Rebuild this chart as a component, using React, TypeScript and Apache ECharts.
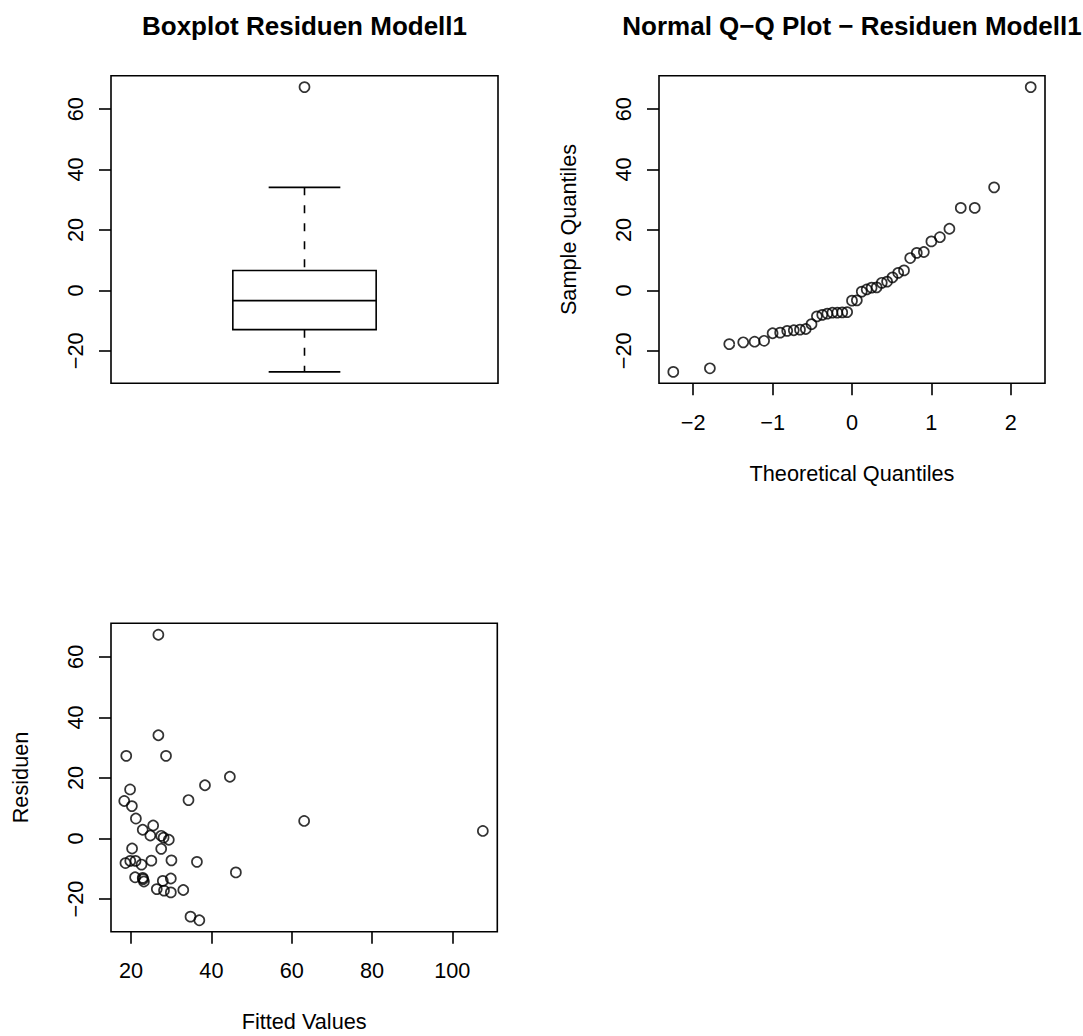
import React, { useEffect, useRef } from "react";
import * as echarts from "echarts";

// ---------- data ----------
const fittedValues = [
  26.8, 26.8, 18.8, 28.7, 44.6, 38.4, 19.75, 34.3, 18.3, 20.2, 21.2, 63.1, 25.5, 22.9, 107.6,
  24.8, 27.5, 28.1, 29.4, 27.5, 20.25, 18.6, 19.8, 21.1, 22.6, 25.05, 30.05, 36.4, 46.1, 21.0,
  22.9, 23.0, 23.2, 27.9, 29.9, 26.4, 28.2, 29.9, 33.0, 34.8, 37.0,
];
const residuals = [
  67.3, 34.1, 27.3, 27.3, 20.4, 17.6, 16.2, 12.7, 12.4, 10.7, 6.6, 5.8, 4.3, 2.9, 2.5,
  1.0, 0.9, 0.3, -0.4, -3.4, -3.3, -8.1, -7.4, -7.4, -8.6, -7.3, -7.2, -7.7, -11.2, -12.8,
  -13.0, -13.4, -14.2, -14.0, -13.2, -16.7, -17.2, -17.8, -17.0, -25.8, -27.0,
];
const theoreticalQuantiles = [
  -2.251, -1.79, -1.546, -1.37, -1.227, -1.107, -1.0, -0.905, -0.816, -0.733, -0.655, -0.582,
  -0.51, -0.442, -0.375, -0.311, -0.247, -0.185, -0.123, -0.061, 0, 0.061, 0.123, 0.185, 0.247,
  0.311, 0.375, 0.442, 0.51, 0.582, 0.655, 0.733, 0.816, 0.905, 1.0, 1.107, 1.227, 1.37, 1.546,
  1.79, 2.251,
];
// [lower whisker, lower hinge, median, upper hinge, upper whisker]
const boxStats = [-27.0, -13.0, -3.4, 6.6, 34.1];
const boxOutliers = [67.3];

const residualTicks = [-20, 0, 20, 40, 60];
const quantileTicks = [-2, -1, 0, 1, 2];
const fittedTicks = [20, 40, 60, 80, 100];

const titles = ["Boxplot Residuen Modell1", "Normal Q\u2212Q Plot \u2212 Residuen Modell1"];

// axis limits (R style 4% extension)
const residualLim = [-30.77, 71.07];
const quantileLim = [-2.431, 2.431];
const fittedLim = [15.0, 111.2];
const boxXLim = [0.46, 1.54];

// ---------- styling ----------
const FONT = "'Liberation Sans', Arial, Helvetica, sans-serif";
const AXIS_FS = 21.7;
const TITLE_FS = 26;
const LW = 1.6;

const fmt = (v: number) => (v < 0 ? "\u2212" + Math.abs(v) : String(v));

function valueAxis(gridIndex: number, lim: number[], ticks: number[], isY: boolean, name?: string) {
  return {
    type: "value",
    gridIndex,
    min: lim[0],
    max: lim[1],
    position: isY ? "left" : "bottom",
    axisLine: { show: false, onZero: false },
    axisTick: {
      show: true,
      inside: false,
      length: 12,
      customValues: ticks,
      lineStyle: { color: "#000", width: LW },
    },
    axisLabel: {
      show: true,
      customValues: ticks,
      formatter: (v: number) => fmt(v),
      color: "#000",
      fontSize: AXIS_FS,
      fontFamily: FONT,
      rotate: isY ? 90 : 0,
      margin: isY ? 25 : 28,
    },
    splitLine: { show: false },
    name: name || "",
    nameLocation: "middle",
    nameGap: isY ? 80 : 79,
    nameTextStyle: { color: "#000", fontSize: AXIS_FS, fontFamily: FONT },
  };
}

const pointStyle = {
  type: "scatter",
  symbol: "circle",
  symbolSize: 10,
  silent: true,
  itemStyle: { color: "rgba(0,0,0,0)", borderColor: "#000", borderWidth: 1.7 },
};

const BOX_HALF = 0.2;
const CAP_HALF = 0.1;

export default function App() {
  const ref = useRef<HTMLDivElement>(null);

  useEffect(() => {
    if (!ref.current) return;
    const chart = echarts.init(ref.current, null, { renderer: "svg" });
    const sampleQuantiles = [...residuals].sort((a, b) => a - b);

    const gridBase = {
      show: true,
      borderColor: "#000",
      borderWidth: LW,
      backgroundColor: "rgba(0,0,0,0)",
      containLabel: false,
      outerBoundsMode: "none",
    };

    const option: any = {
      animation: false,
      backgroundColor: "#fff",
      grid: [
        { ...gridBase, left: 111, top: 75.7, width: 387, height: 307.6 },
        { ...gridBase, left: 659, top: 75.7, width: 386, height: 307.6 },
        { ...gridBase, left: 111, top: 623.3, width: 386.3, height: 308.4 },
      ],
      xAxis: [
        { type: "value", gridIndex: 0, min: boxXLim[0], max: boxXLim[1], show: false },
        valueAxis(1, quantileLim, quantileTicks, false, "Theoretical Quantiles"),
        valueAxis(2, fittedLim, fittedTicks, false, "Fitted Values"),
      ],
      yAxis: [
        valueAxis(0, residualLim, residualTicks, true),
        valueAxis(1, residualLim, residualTicks, true, "Sample Quantiles"),
        valueAxis(2, residualLim, residualTicks, true, "Residuen"),
      ],
      graphic: [
        {
          type: "text",
          x: 304.5,
          y: 26.3,
          style: {
            text: titles[0],
            fontSize: TITLE_FS,
            fontWeight: "bold",
            fontFamily: FONT,
            fill: "#000",
            align: "center",
            verticalAlign: "middle",
          },
        },
        {
          type: "text",
          x: 852,
          y: 26.3,
          style: {
            text: titles[1],
            fontSize: TITLE_FS,
            fontWeight: "bold",
            fontFamily: FONT,
            fill: "#000",
            align: "center",
            verticalAlign: "middle",
          },
        },
      ],
      series: [
        {
          type: "custom",
          xAxisIndex: 0,
          yAxisIndex: 0,
          silent: true,
          clip: false,
          encode: { x: 0, y: [1, 2, 3, 4, 5] },
          data: [[1, ...boxStats]],
          renderItem: (params: any, api: any) => {
            const x = api.value(0);
            const mn = api.value(1);
            const q1 = api.value(2);
            const md = api.value(3);
            const q3 = api.value(4);
            const mx = api.value(5);
            const c = (xx: number, yy: number) => api.coord([xx, yy]);
            const solid = { stroke: "#000", lineWidth: LW, fill: "none" };
            const dashed = { stroke: "#000", lineWidth: LW, lineDash: [8, 10], fill: "none" };
            const tl = c(x - BOX_HALF, q3);
            const br = c(x + BOX_HALF, q1);
            const mL = c(x - BOX_HALF, md);
            const mR = c(x + BOX_HALF, md);
            const top = c(x, mx);
            const bot = c(x, mn);
            const q3p = c(x, q3);
            const q1p = c(x, q1);
            const capTL = c(x - CAP_HALF, mx);
            const capTR = c(x + CAP_HALF, mx);
            const capBL = c(x - CAP_HALF, mn);
            const capBR = c(x + CAP_HALF, mn);
            return {
              type: "group",
              children: [
                {
                  type: "line",
                  shape: { x1: top[0], y1: top[1], x2: q3p[0], y2: q3p[1] },
                  style: dashed,
                },
                {
                  type: "line",
                  shape: { x1: q1p[0], y1: q1p[1], x2: bot[0], y2: bot[1] },
                  style: dashed,
                },
                {
                  type: "line",
                  shape: { x1: capTL[0], y1: capTL[1], x2: capTR[0], y2: capTR[1] },
                  style: solid,
                },
                {
                  type: "line",
                  shape: { x1: capBL[0], y1: capBL[1], x2: capBR[0], y2: capBR[1] },
                  style: solid,
                },
                {
                  type: "rect",
                  shape: { x: tl[0], y: tl[1], width: br[0] - tl[0], height: br[1] - tl[1] },
                  style: solid,
                },
                {
                  type: "line",
                  shape: { x1: mL[0], y1: mL[1], x2: mR[0], y2: mR[1] },
                  style: solid,
                },
              ],
            };
          },
        },
        {
          ...pointStyle,
          xAxisIndex: 0,
          yAxisIndex: 0,
          data: boxOutliers.map((v) => [1, v]),
        },
        {
          ...pointStyle,
          xAxisIndex: 1,
          yAxisIndex: 1,
          data: theoreticalQuantiles.map((q, i) => [q, sampleQuantiles[i]]),
        },
        {
          ...pointStyle,
          xAxisIndex: 2,
          yAxisIndex: 2,
          data: fittedValues.map((f, i) => [f, residuals[i]]),
        },
      ],
    };

    chart.setOption(option);
    return () => chart.dispose();
  }, []);

  return (
    <div
      ref={ref}
      style={{ position: "fixed", left: 0, top: 0, width: 1083, height: 1036, background: "#fff" }}
    />
  );
}
